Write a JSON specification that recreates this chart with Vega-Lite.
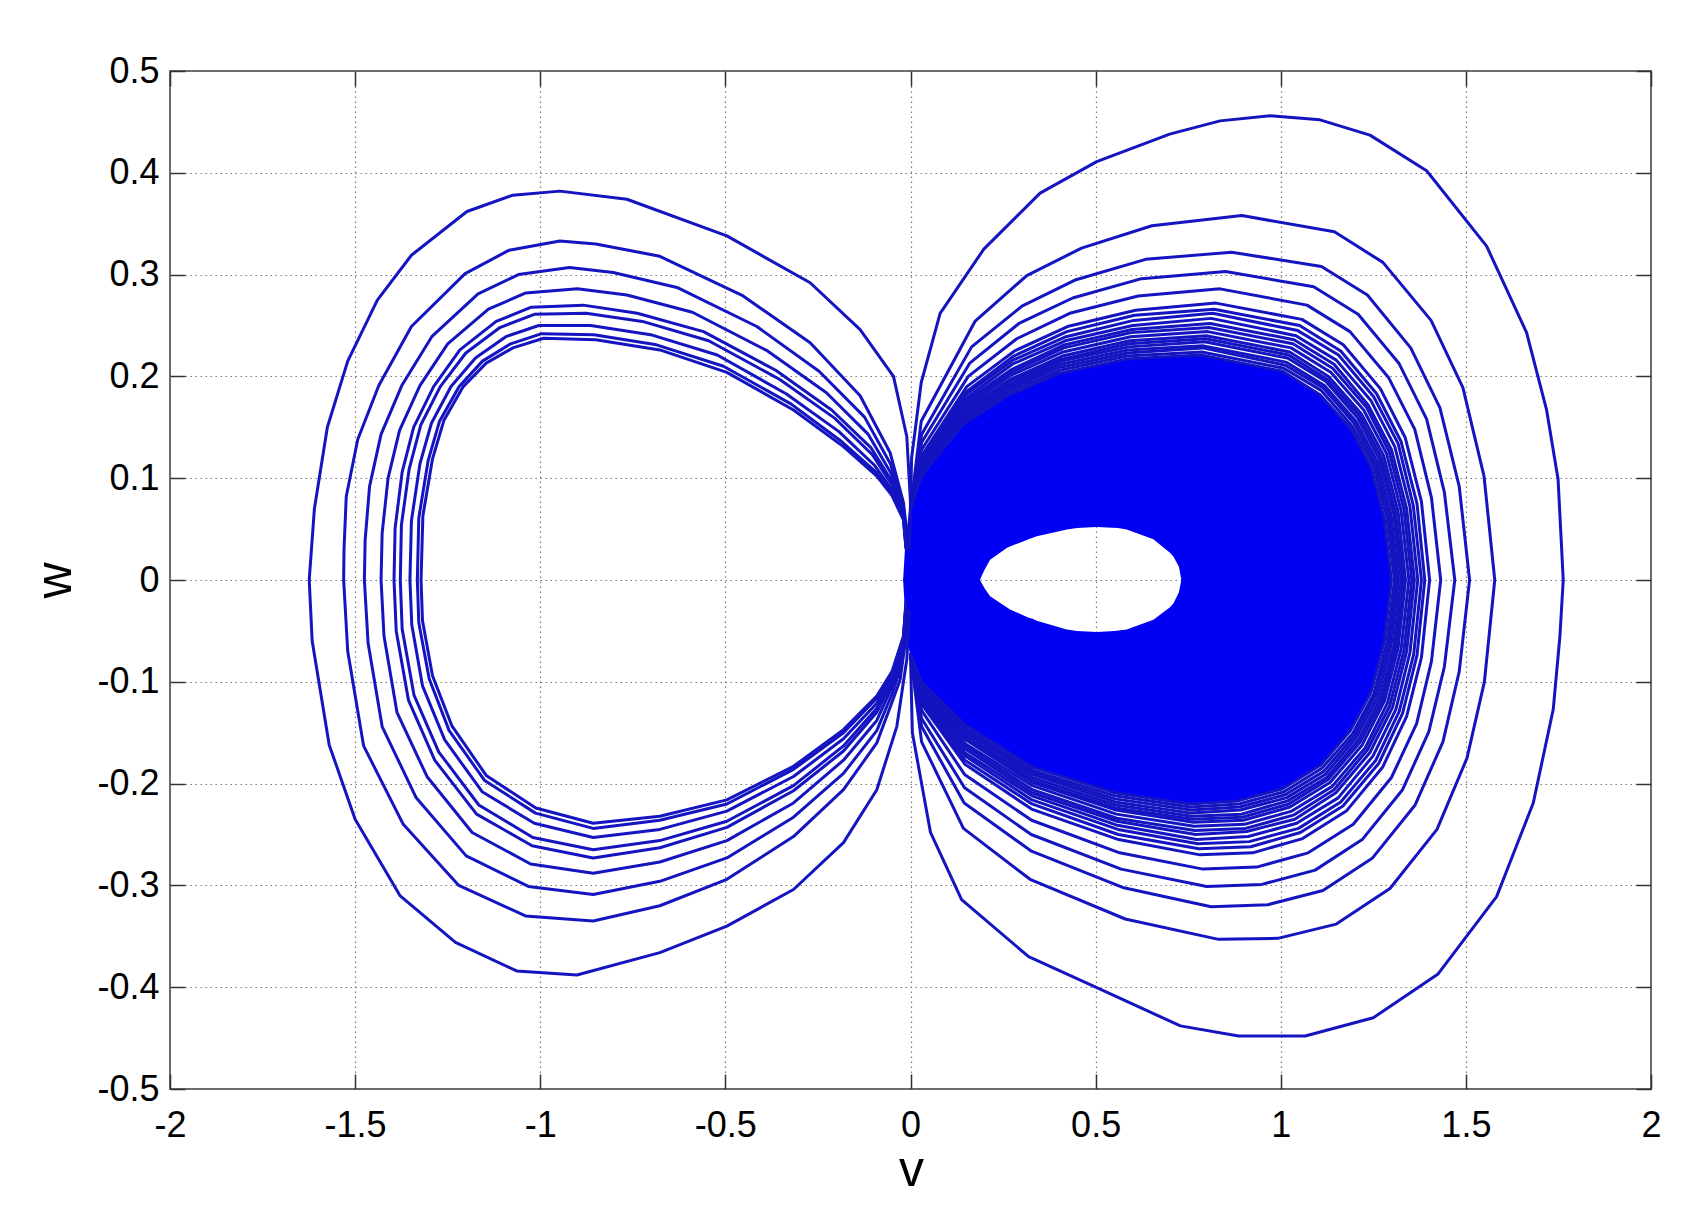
{
"$schema": "https://vega.github.io/schema/vega-lite/v6.json",
"width": 1481, "height": 1018,
"autosize": {"type": "none"},
"padding": {"left": 170, "top": 71, "right": 49, "bottom": 116},
"background": "white",
"config": {"view": {"stroke": "#3a3a3a", "strokeWidth": 1.5}, "font": "Liberation Sans"},
"datasets": {
"dense": [
{"b":"u","v":-0.02,"hi":0,"lo":-0.001},{"b":"u","v":-0.015,"hi":0.03,"lo":-0.001},{"b":"u","v":-0.005,"hi":0.066,"lo":-0.001},{"b":"u","v":0,"hi":0.075,"lo":-0.001},{"b":"u","v":0.005,"hi":0.09,"lo":-0.001},{"b":"u","v":0.03,"hi":0.11,"lo":-0.001},{"b":"u","v":0.07,"hi":0.13,"lo":-0.001},{"b":"u","v":0.139,"hi":0.152,"lo":-0.001},{"b":"u","v":0.186,"hi":0.163,"lo":-0.001},{"b":"u","v":0.2,"hi":0.166,"lo":0.01},{"b":"u","v":0.215,"hi":0.17,"lo":0.02},{"b":"u","v":0.262,"hi":0.181,"lo":0.032},{"b":"u","v":0.269,"hi":0.182,"lo":0.033},{"b":"u","v":0.319,"hi":0.19,"lo":0.04},{"b":"u","v":0.341,"hi":0.194,"lo":0.043},{"b":"u","v":0.402,"hi":0.203,"lo":0.048},{"b":"u","v":0.422,"hi":0.205,"lo":0.0496},{"b":"u","v":0.45,"hi":0.207,"lo":0.051},{"b":"u","v":0.503,"hi":0.211,"lo":0.052},{"b":"u","v":0.56,"hi":0.215,"lo":0.051},{"b":"u","v":0.584,"hi":0.217,"lo":0.0496},{"b":"u","v":0.656,"hi":0.218,"lo":0.04},{"b":"u","v":0.7,"hi":0.219,"lo":0.027},{"b":"u","v":0.71,"hi":0.219,"lo":0.023},{"b":"u","v":0.725,"hi":0.22,"lo":0.013},{"b":"u","v":0.732,"hi":0.22,"lo":-0.001},{"b":"u","v":0.784,"hi":0.221,"lo":-0.001},{"b":"u","v":0.9,"hi":0.213,"lo":-0.001},{"b":"u","v":1.005,"hi":0.205,"lo":-0.001},{"b":"u","v":1.106,"hi":0.182,"lo":-0.001},{"b":"u","v":1.188,"hi":0.149,"lo":-0.001},{"b":"u","v":1.244,"hi":0.111,"lo":-0.001},{"b":"u","v":1.279,"hi":0.061,"lo":-0.001},{"b":"u","v":1.299,"hi":0,"lo":-0.001},
{"b":"d","v":-0.02,"hi":0.001,"lo":0},{"b":"d","v":-0.015,"hi":0.001,"lo":-0.03},{"b":"d","v":-0.005,"hi":0.001,"lo":-0.066},{"b":"d","v":0,"hi":0.001,"lo":-0.075},{"b":"d","v":0.005,"hi":0.001,"lo":-0.088},{"b":"d","v":0.03,"hi":0.001,"lo":-0.105},{"b":"d","v":0.07,"hi":0.001,"lo":-0.122},{"b":"d","v":0.15,"hi":0.001,"lo":-0.143},{"b":"d","v":0.186,"hi":0.001,"lo":-0.151},{"b":"d","v":0.2,"hi":-0.008,"lo":-0.154},{"b":"d","v":0.215,"hi":-0.016,"lo":-0.158},{"b":"d","v":0.269,"hi":-0.029,"lo":-0.17},{"b":"d","v":0.319,"hi":-0.037,"lo":-0.182},{"b":"d","v":0.33,"hi":-0.038,"lo":-0.184},{"b":"d","v":0.341,"hi":-0.04,"lo":-0.185},{"b":"d","v":0.422,"hi":-0.0486,"lo":-0.194},{"b":"d","v":0.45,"hi":-0.05,"lo":-0.197},{"b":"d","v":0.503,"hi":-0.051,"lo":-0.203},{"b":"d","v":0.551,"hi":-0.05,"lo":-0.209},{"b":"d","v":0.584,"hi":-0.0486,"lo":-0.211},{"b":"d","v":0.656,"hi":-0.039,"lo":-0.215},{"b":"d","v":0.7,"hi":-0.027,"lo":-0.217},{"b":"d","v":0.71,"hi":-0.023,"lo":-0.218},{"b":"d","v":0.725,"hi":-0.012,"lo":-0.219},{"b":"d","v":0.732,"hi":0.001,"lo":-0.219},{"b":"d","v":0.753,"hi":0.001,"lo":-0.22},{"b":"d","v":0.884,"hi":0.001,"lo":-0.217},{"b":"d","v":1.005,"hi":0.001,"lo":-0.205},{"b":"d","v":1.107,"hi":0.001,"lo":-0.182},{"b":"d","v":1.188,"hi":0.001,"lo":-0.148},{"b":"d","v":1.244,"hi":0.001,"lo":-0.11},{"b":"d","v":1.279,"hi":0.001,"lo":-0.061},{"b":"d","v":1.299,"hi":0.001,"lo":0}
],
"loops": [
{"c":"L1","i":0,"v":-0.003,"w":0.03},{"c":"L1","i":1,"v":0,"w":0.076},{"c":"L1","i":2,"v":-0.01,"w":0.141},{"c":"L1","i":3,"v":-0.046,"w":0.2},{"c":"L1","i":4,"v":-0.136,"w":0.246},{"c":"L1","i":5,"v":-0.271,"w":0.292},{"c":"L1","i":6,"v":-0.496,"w":0.338},{"c":"L1","i":7,"v":-0.766,"w":0.374},{"c":"L1","i":8,"v":-0.947,"w":0.382},{"c":"L1","i":9,"v":-1.074,"w":0.378},{"c":"L1","i":10,"v":-1.198,"w":0.362},{"c":"L1","i":11,"v":-1.348,"w":0.319},{"c":"L1","i":12,"v":-1.44,"w":0.275},{"c":"L1","i":13,"v":-1.52,"w":0.215},{"c":"L1","i":14,"v":-1.575,"w":0.15},{"c":"L1","i":15,"v":-1.61,"w":0.07},{"c":"L1","i":16,"v":-1.624,"w":0},{"c":"L1","i":17,"v":-1.616,"w":-0.06},{"c":"L1","i":18,"v":-1.57,"w":-0.162},{"c":"L1","i":19,"v":-1.5,"w":-0.235},{"c":"L1","i":20,"v":-1.379,"w":-0.31},{"c":"L1","i":21,"v":-1.229,"w":-0.356},{"c":"L1","i":22,"v":-1.064,"w":-0.384},{"c":"L1","i":23,"v":-0.901,"w":-0.388},{"c":"L1","i":24,"v":-0.677,"w":-0.366},{"c":"L1","i":25,"v":-0.496,"w":-0.34},{"c":"L1","i":26,"v":-0.316,"w":-0.304},{"c":"L1","i":27,"v":-0.181,"w":-0.258},{"c":"L1","i":28,"v":-0.091,"w":-0.206},{"c":"L1","i":29,"v":-0.037,"w":-0.144},{"c":"L1","i":30,"v":-0.01,"w":-0.078},{"c":"L1","i":31,"v":-0.003,"w":-0.03},
{"c":"L2","i":0,"v":-0.008,"w":0.04},{"c":"L2","i":1,"v":-0.019,"w":0.076},{"c":"L2","i":2,"v":-0.055,"w":0.125},{"c":"L2","i":3,"v":-0.136,"w":0.181},{"c":"L2","i":4,"v":-0.271,"w":0.233},{"c":"L2","i":5,"v":-0.452,"w":0.279},{"c":"L2","i":6,"v":-0.677,"w":0.318},{"c":"L2","i":7,"v":-0.85,"w":0.33},{"c":"L2","i":8,"v":-0.947,"w":0.333},{"c":"L2","i":9,"v":-1.084,"w":0.324},{"c":"L2","i":10,"v":-1.203,"w":0.301},{"c":"L2","i":11,"v":-1.348,"w":0.249},{"c":"L2","i":12,"v":-1.436,"w":0.191},{"c":"L2","i":13,"v":-1.493,"w":0.138},{"c":"L2","i":14,"v":-1.524,"w":0.082},{"c":"L2","i":15,"v":-1.53,"w":0.03},{"c":"L2","i":16,"v":-1.531,"w":0},{"c":"L2","i":17,"v":-1.52,"w":-0.07},{"c":"L2","i":18,"v":-1.477,"w":-0.163},{"c":"L2","i":19,"v":-1.37,"w":-0.24},{"c":"L2","i":20,"v":-1.22,"w":-0.3},{"c":"L2","i":21,"v":-1.04,"w":-0.33},{"c":"L2","i":22,"v":-0.857,"w":-0.335},{"c":"L2","i":23,"v":-0.677,"w":-0.32},{"c":"L2","i":24,"v":-0.496,"w":-0.294},{"c":"L2","i":25,"v":-0.316,"w":-0.252},{"c":"L2","i":26,"v":-0.181,"w":-0.206},{"c":"L2","i":27,"v":-0.091,"w":-0.16},{"c":"L2","i":28,"v":-0.05,"w":-0.12},{"c":"L2","i":29,"v":-0.028,"w":-0.098},{"c":"L2","i":30,"v":-0.01,"w":-0.05},
{"c":"L3","i":0,"v":-0.009,"w":0.037},{"c":"L3","i":1,"v":-0.019,"w":0.071},{"c":"L3","i":2,"v":-0.054,"w":0.114},{"c":"L3","i":3,"v":-0.124,"w":0.16},{"c":"L3","i":4,"v":-0.247,"w":0.205},{"c":"L3","i":5,"v":-0.415,"w":0.249},{"c":"L3","i":6,"v":-0.628,"w":0.287},{"c":"L3","i":7,"v":-0.803,"w":0.302},{"c":"L3","i":8,"v":-0.921,"w":0.307},{"c":"L3","i":9,"v":-1.059,"w":0.3},{"c":"L3","i":10,"v":-1.168,"w":0.281},{"c":"L3","i":11,"v":-1.293,"w":0.239},{"c":"L3","i":12,"v":-1.374,"w":0.191},{"c":"L3","i":13,"v":-1.43,"w":0.143},{"c":"L3","i":14,"v":-1.461,"w":0.092},{"c":"L3","i":15,"v":-1.473,"w":0.039},{"c":"L3","i":16,"v":-1.475,"w":0},{"c":"L3","i":17,"v":-1.465,"w":-0.062},{"c":"L3","i":18,"v":-1.427,"w":-0.144},{"c":"L3","i":19,"v":-1.335,"w":-0.214},{"c":"L3","i":20,"v":-1.2,"w":-0.271},{"c":"L3","i":21,"v":-1.032,"w":-0.301},{"c":"L3","i":22,"v":-0.857,"w":-0.309},{"c":"L3","i":23,"v":-0.677,"w":-0.296},{"c":"L3","i":24,"v":-0.496,"w":-0.273},{"c":"L3","i":25,"v":-0.316,"w":-0.233},{"c":"L3","i":26,"v":-0.181,"w":-0.19},{"c":"L3","i":27,"v":-0.091,"w":-0.148},{"c":"L3","i":28,"v":-0.05,"w":-0.112},{"c":"L3","i":29,"v":-0.026,"w":-0.086},{"c":"L3","i":30,"v":-0.011,"w":-0.042},
{"c":"L4","i":0,"v":-0.01,"w":0.035},{"c":"L4","i":1,"v":-0.019,"w":0.068},{"c":"L4","i":2,"v":-0.053,"w":0.105},{"c":"L4","i":3,"v":-0.114,"w":0.143},{"c":"L4","i":4,"v":-0.227,"w":0.184},{"c":"L4","i":5,"v":-0.386,"w":0.225},{"c":"L4","i":6,"v":-0.589,"w":0.263},{"c":"L4","i":7,"v":-0.766,"w":0.28},{"c":"L4","i":8,"v":-0.9,"w":0.286},{"c":"L4","i":9,"v":-1.039,"w":0.282},{"c":"L4","i":10,"v":-1.14,"w":0.266},{"c":"L4","i":11,"v":-1.25,"w":0.232},{"c":"L4","i":12,"v":-1.325,"w":0.191},{"c":"L4","i":13,"v":-1.38,"w":0.147},{"c":"L4","i":14,"v":-1.411,"w":0.1},{"c":"L4","i":15,"v":-1.427,"w":0.046},{"c":"L4","i":16,"v":-1.43,"w":0},{"c":"L4","i":17,"v":-1.422,"w":-0.055},{"c":"L4","i":18,"v":-1.387,"w":-0.13},{"c":"L4","i":19,"v":-1.306,"w":-0.193},{"c":"L4","i":20,"v":-1.184,"w":-0.248},{"c":"L4","i":21,"v":-1.026,"w":-0.279},{"c":"L4","i":22,"v":-0.857,"w":-0.288},{"c":"L4","i":23,"v":-0.677,"w":-0.277},{"c":"L4","i":24,"v":-0.496,"w":-0.256},{"c":"L4","i":25,"v":-0.316,"w":-0.219},{"c":"L4","i":26,"v":-0.181,"w":-0.177},{"c":"L4","i":27,"v":-0.091,"w":-0.138},{"c":"L4","i":28,"v":-0.05,"w":-0.105},{"c":"L4","i":29,"v":-0.024,"w":-0.077},{"c":"L4","i":30,"v":-0.011,"w":-0.035},
{"c":"L5","i":0,"v":-0.011,"w":0.034},{"c":"L5","i":1,"v":-0.019,"w":0.065},{"c":"L5","i":2,"v":-0.052,"w":0.098},{"c":"L5","i":3,"v":-0.107,"w":0.13},{"c":"L5","i":4,"v":-0.213,"w":0.167},{"c":"L5","i":5,"v":-0.364,"w":0.206},{"c":"L5","i":6,"v":-0.559,"w":0.244},{"c":"L5","i":7,"v":-0.738,"w":0.262},{"c":"L5","i":8,"v":-0.884,"w":0.27},{"c":"L5","i":9,"v":-1.024,"w":0.268},{"c":"L5","i":10,"v":-1.119,"w":0.254},{"c":"L5","i":11,"v":-1.217,"w":0.226},{"c":"L5","i":12,"v":-1.288,"w":0.19},{"c":"L5","i":13,"v":-1.342,"w":0.15},{"c":"L5","i":14,"v":-1.373,"w":0.106},{"c":"L5","i":15,"v":-1.392,"w":0.051},{"c":"L5","i":16,"v":-1.395,"w":0},{"c":"L5","i":17,"v":-1.389,"w":-0.05},{"c":"L5","i":18,"v":-1.356,"w":-0.118},{"c":"L5","i":19,"v":-1.285,"w":-0.177},{"c":"L5","i":20,"v":-1.172,"w":-0.23},{"c":"L5","i":21,"v":-1.022,"w":-0.261},{"c":"L5","i":22,"v":-0.857,"w":-0.273},{"c":"L5","i":23,"v":-0.677,"w":-0.263},{"c":"L5","i":24,"v":-0.496,"w":-0.243},{"c":"L5","i":25,"v":-0.316,"w":-0.207},{"c":"L5","i":26,"v":-0.181,"w":-0.168},{"c":"L5","i":27,"v":-0.091,"w":-0.13},{"c":"L5","i":28,"v":-0.05,"w":-0.1},{"c":"L5","i":29,"v":-0.022,"w":-0.07},{"c":"L5","i":30,"v":-0.011,"w":-0.03},
{"c":"L6","i":0,"v":-0.011,"w":0.033},{"c":"L6","i":1,"v":-0.019,"w":0.064},{"c":"L6","i":2,"v":-0.051,"w":0.094},{"c":"L6","i":3,"v":-0.103,"w":0.123},{"c":"L6","i":4,"v":-0.205,"w":0.159},{"c":"L6","i":5,"v":-0.353,"w":0.197},{"c":"L6","i":6,"v":-0.545,"w":0.235},{"c":"L6","i":7,"v":-0.724,"w":0.254},{"c":"L6","i":8,"v":-0.876,"w":0.262},{"c":"L6","i":9,"v":-1.016,"w":0.261},{"c":"L6","i":10,"v":-1.109,"w":0.248},{"c":"L6","i":11,"v":-1.201,"w":0.223},{"c":"L6","i":12,"v":-1.27,"w":0.19},{"c":"L6","i":13,"v":-1.323,"w":0.152},{"c":"L6","i":14,"v":-1.354,"w":0.109},{"c":"L6","i":15,"v":-1.375,"w":0.054},{"c":"L6","i":16,"v":-1.378,"w":0},{"c":"L6","i":17,"v":-1.373,"w":-0.048},{"c":"L6","i":18,"v":-1.341,"w":-0.113},{"c":"L6","i":19,"v":-1.274,"w":-0.169},{"c":"L6","i":20,"v":-1.166,"w":-0.221},{"c":"L6","i":21,"v":-1.02,"w":-0.253},{"c":"L6","i":22,"v":-0.857,"w":-0.265},{"c":"L6","i":23,"v":-0.677,"w":-0.256},{"c":"L6","i":24,"v":-0.496,"w":-0.237},{"c":"L6","i":25,"v":-0.316,"w":-0.202},{"c":"L6","i":26,"v":-0.181,"w":-0.163},{"c":"L6","i":27,"v":-0.091,"w":-0.126},{"c":"L6","i":28,"v":-0.05,"w":-0.098},{"c":"L6","i":29,"v":-0.021,"w":-0.067},{"c":"L6","i":30,"v":-0.011,"w":-0.028},
{"c":"L7","i":0,"v":-0.011,"w":0.031},{"c":"L7","i":1,"v":-0.019,"w":0.061},{"c":"L7","i":2,"v":-0.051,"w":0.089},{"c":"L7","i":3,"v":-0.098,"w":0.113},{"c":"L7","i":4,"v":-0.194,"w":0.146},{"c":"L7","i":5,"v":-0.336,"w":0.183},{"c":"L7","i":6,"v":-0.522,"w":0.221},{"c":"L7","i":7,"v":-0.702,"w":0.241},{"c":"L7","i":8,"v":-0.864,"w":0.25},{"c":"L7","i":9,"v":-1.004,"w":0.25},{"c":"L7","i":10,"v":-1.093,"w":0.239},{"c":"L7","i":11,"v":-1.175,"w":0.218},{"c":"L7","i":12,"v":-1.241,"w":0.19},{"c":"L7","i":13,"v":-1.294,"w":0.154},{"c":"L7","i":14,"v":-1.325,"w":0.114},{"c":"L7","i":15,"v":-1.348,"w":0.058},{"c":"L7","i":16,"v":-1.352,"w":0},{"c":"L7","i":17,"v":-1.347,"w":-0.044},{"c":"L7","i":18,"v":-1.318,"w":-0.104},{"c":"L7","i":19,"v":-1.258,"w":-0.157},{"c":"L7","i":20,"v":-1.157,"w":-0.208},{"c":"L7","i":21,"v":-1.016,"w":-0.239},{"c":"L7","i":22,"v":-0.857,"w":-0.253},{"c":"L7","i":23,"v":-0.677,"w":-0.245},{"c":"L7","i":24,"v":-0.496,"w":-0.227},{"c":"L7","i":25,"v":-0.316,"w":-0.193},{"c":"L7","i":26,"v":-0.181,"w":-0.156},{"c":"L7","i":27,"v":-0.091,"w":-0.121},{"c":"L7","i":28,"v":-0.05,"w":-0.094},{"c":"L7","i":29,"v":-0.02,"w":-0.061},{"c":"L7","i":30,"v":-0.012,"w":-0.024},
{"c":"L8","i":0,"v":-0.012,"w":0.031},{"c":"L8","i":1,"v":-0.019,"w":0.06},{"c":"L8","i":2,"v":-0.05,"w":0.085},{"c":"L8","i":3,"v":-0.093,"w":0.106},{"c":"L8","i":4,"v":-0.186,"w":0.136},{"c":"L8","i":5,"v":-0.323,"w":0.173},{"c":"L8","i":6,"v":-0.505,"w":0.21},{"c":"L8","i":7,"v":-0.686,"w":0.231},{"c":"L8","i":8,"v":-0.855,"w":0.241},{"c":"L8","i":9,"v":-0.996,"w":0.242},{"c":"L8","i":10,"v":-1.08,"w":0.232},{"c":"L8","i":11,"v":-1.156,"w":0.215},{"c":"L8","i":12,"v":-1.219,"w":0.19},{"c":"L8","i":13,"v":-1.272,"w":0.156},{"c":"L8","i":14,"v":-1.303,"w":0.117},{"c":"L8","i":15,"v":-1.328,"w":0.061},{"c":"L8","i":16,"v":-1.332,"w":0},{"c":"L8","i":17,"v":-1.328,"w":-0.042},{"c":"L8","i":18,"v":-1.3,"w":-0.097},{"c":"L8","i":19,"v":-1.246,"w":-0.148},{"c":"L8","i":20,"v":-1.15,"w":-0.197},{"c":"L8","i":21,"v":-1.013,"w":-0.229},{"c":"L8","i":22,"v":-0.857,"w":-0.244},{"c":"L8","i":23,"v":-0.677,"w":-0.236},{"c":"L8","i":24,"v":-0.496,"w":-0.22},{"c":"L8","i":25,"v":-0.316,"w":-0.186},{"c":"L8","i":26,"v":-0.181,"w":-0.15},{"c":"L8","i":27,"v":-0.091,"w":-0.116},{"c":"L8","i":28,"v":-0.05,"w":-0.092},{"c":"L8","i":29,"v":-0.019,"w":-0.057},{"c":"L8","i":30,"v":-0.012,"w":-0.022},
{"c":"L9","i":0,"v":-0.012,"w":0.03},{"c":"L9","i":1,"v":-0.019,"w":0.059},{"c":"L9","i":2,"v":-0.05,"w":0.083},{"c":"L9","i":3,"v":-0.091,"w":0.102},{"c":"L9","i":4,"v":-0.181,"w":0.131},{"c":"L9","i":5,"v":-0.316,"w":0.167},{"c":"L9","i":6,"v":-0.496,"w":0.204},{"c":"L9","i":7,"v":-0.677,"w":0.226},{"c":"L9","i":8,"v":-0.85,"w":0.236},{"c":"L9","i":9,"v":-0.991,"w":0.2375},{"c":"L9","i":10,"v":-1.074,"w":0.228},{"c":"L9","i":11,"v":-1.146,"w":0.213},{"c":"L9","i":12,"v":-1.208,"w":0.19},{"c":"L9","i":13,"v":-1.26,"w":0.157},{"c":"L9","i":14,"v":-1.291,"w":0.119},{"c":"L9","i":15,"v":-1.317,"w":0.063},{"c":"L9","i":16,"v":-1.322,"w":0},{"c":"L9","i":17,"v":-1.318,"w":-0.04},{"c":"L9","i":18,"v":-1.291,"w":-0.094},{"c":"L9","i":19,"v":-1.239,"w":-0.143},{"c":"L9","i":20,"v":-1.146,"w":-0.192},{"c":"L9","i":21,"v":-1.012,"w":-0.224},{"c":"L9","i":22,"v":-0.857,"w":-0.239},{"c":"L9","i":23,"v":-0.677,"w":-0.232},{"c":"L9","i":24,"v":-0.496,"w":-0.216},{"c":"L9","i":25,"v":-0.316,"w":-0.183},{"c":"L9","i":26,"v":-0.181,"w":-0.147},{"c":"L9","i":27,"v":-0.091,"w":-0.114},{"c":"L9","i":28,"v":-0.05,"w":-0.09},{"c":"L9","i":29,"v":-0.019,"w":-0.055},{"c":"L9","i":30,"v":-0.012,"w":-0.02},
{"c":"R1","i":0,"v":0,"w":0.07},{"c":"R1","i":0.5,"v":0.003,"w":0.12},{"c":"R1","i":1,"v":0.029,"w":0.194},{"c":"R1","i":1.5,"v":0.08,"w":0.262},{"c":"R1","i":2,"v":0.198,"w":0.325},{"c":"R1","i":3,"v":0.35,"w":0.38},{"c":"R1","i":4,"v":0.503,"w":0.411},{"c":"R1","i":5,"v":0.7,"w":0.438},{"c":"R1","i":5.5,"v":0.836,"w":0.451},{"c":"R1","i":6,"v":0.971,"w":0.456},{"c":"R1","i":6.5,"v":1.106,"w":0.452},{"c":"R1","i":7,"v":1.241,"w":0.437},{"c":"R1","i":8,"v":1.394,"w":0.402},{"c":"R1","i":9,"v":1.556,"w":0.328},{"c":"R1","i":10,"v":1.664,"w":0.243},{"c":"R1","i":10.5,"v":1.718,"w":0.167},{"c":"R1","i":11,"v":1.749,"w":0.099},{"c":"R1","i":12,"v":1.763,"w":0},{"c":"R1","i":12.5,"v":1.754,"w":-0.055},{"c":"R1","i":13,"v":1.736,"w":-0.127},{"c":"R1","i":14,"v":1.682,"w":-0.219},{"c":"R1","i":15,"v":1.583,"w":-0.311},{"c":"R1","i":16,"v":1.425,"w":-0.387},{"c":"R1","i":17,"v":1.25,"w":-0.43},{"c":"R1","i":18,"v":1.066,"w":-0.448},{"c":"R1","i":19,"v":0.886,"w":-0.448},{"c":"R1","i":19.5,"v":0.729,"w":-0.438},{"c":"R1","i":20,"v":0.512,"w":-0.402},{"c":"R1","i":21,"v":0.319,"w":-0.37},{"c":"R1","i":22,"v":0.138,"w":-0.314},{"c":"R1","i":22.5,"v":0.054,"w":-0.248},{"c":"R1","i":23,"v":0.005,"w":-0.15},{"c":"R1","i":24,"v":0,"w":-0.075},
{"c":"R2","i":0,"v":0,"w":0.07},{"c":"R2","i":1,"v":0.029,"w":0.156},{"c":"R2","i":2,"v":0.174,"w":0.254},{"c":"R2","i":3,"v":0.314,"w":0.299},{"c":"R2","i":4,"v":0.462,"w":0.326},{"c":"R2","i":5,"v":0.652,"w":0.348},{"c":"R2","i":6,"v":0.895,"w":0.358},{"c":"R2","i":7,"v":1.145,"w":0.342},{"c":"R2","i":8,"v":1.276,"w":0.312},{"c":"R2","i":9,"v":1.406,"w":0.255},{"c":"R2","i":10,"v":1.492,"w":0.189},{"c":"R2","i":11,"v":1.549,"w":0.102},{"c":"R2","i":12,"v":1.578,"w":0},{"c":"R2","i":13,"v":1.55,"w":-0.1},{"c":"R2","i":14,"v":1.503,"w":-0.175},{"c":"R2","i":15,"v":1.422,"w":-0.245},{"c":"R2","i":16,"v":1.295,"w":-0.303},{"c":"R2","i":17,"v":1.15,"w":-0.338},{"c":"R2","i":18,"v":0.992,"w":-0.352},{"c":"R2","i":19,"v":0.832,"w":-0.353},{"c":"R2","i":20,"v":0.58,"w":-0.333},{"c":"R2","i":21,"v":0.323,"w":-0.294},{"c":"R2","i":22,"v":0.143,"w":-0.244},{"c":"R2","i":23,"v":0.03,"w":-0.159},{"c":"R2","i":24,"v":0,"w":-0.074},
{"c":"R3","i":0,"v":0,"w":0.07},{"c":"R3","i":1,"v":0.03,"w":0.143},{"c":"R3","i":2,"v":0.165,"w":0.229},{"c":"R3","i":3,"v":0.301,"w":0.269},{"c":"R3","i":4,"v":0.447,"w":0.295},{"c":"R3","i":5,"v":0.635,"w":0.315},{"c":"R3","i":6,"v":0.867,"w":0.322},{"c":"R3","i":7,"v":1.11,"w":0.308},{"c":"R3","i":8,"v":1.234,"w":0.28},{"c":"R3","i":9,"v":1.351,"w":0.228},{"c":"R3","i":10,"v":1.43,"w":0.169},{"c":"R3","i":11,"v":1.482,"w":0.092},{"c":"R3","i":12,"v":1.51,"w":0},{"c":"R3","i":13,"v":1.482,"w":-0.09},{"c":"R3","i":14,"v":1.438,"w":-0.159},{"c":"R3","i":15,"v":1.363,"w":-0.221},{"c":"R3","i":16,"v":1.248,"w":-0.273},{"c":"R3","i":17,"v":1.114,"w":-0.305},{"c":"R3","i":18,"v":0.965,"w":-0.319},{"c":"R3","i":19,"v":0.812,"w":-0.321},{"c":"R3","i":20,"v":0.573,"w":-0.302},{"c":"R3","i":21,"v":0.325,"w":-0.266},{"c":"R3","i":22,"v":0.145,"w":-0.219},{"c":"R3","i":23,"v":0.03,"w":-0.144},{"c":"R3","i":24,"v":0,"w":-0.073},
{"c":"R4","i":0,"v":0,"w":0.07},{"c":"R4","i":1,"v":0.03,"w":0.135},{"c":"R4","i":2,"v":0.16,"w":0.213},{"c":"R4","i":3,"v":0.293,"w":0.252},{"c":"R4","i":4,"v":0.438,"w":0.277},{"c":"R4","i":5,"v":0.624,"w":0.296},{"c":"R4","i":6,"v":0.851,"w":0.303},{"c":"R4","i":7,"v":1.089,"w":0.288},{"c":"R4","i":8,"v":1.209,"w":0.261},{"c":"R4","i":9,"v":1.319,"w":0.213},{"c":"R4","i":10,"v":1.394,"w":0.158},{"c":"R4","i":11,"v":1.442,"w":0.086},{"c":"R4","i":12,"v":1.47,"w":0},{"c":"R4","i":13,"v":1.442,"w":-0.085},{"c":"R4","i":14,"v":1.4,"w":-0.149},{"c":"R4","i":15,"v":1.329,"w":-0.206},{"c":"R4","i":16,"v":1.22,"w":-0.255},{"c":"R4","i":17,"v":1.093,"w":-0.285},{"c":"R4","i":18,"v":0.949,"w":-0.299},{"c":"R4","i":19,"v":0.8,"w":-0.301},{"c":"R4","i":20,"v":0.569,"w":-0.284},{"c":"R4","i":21,"v":0.326,"w":-0.25},{"c":"R4","i":22,"v":0.146,"w":-0.204},{"c":"R4","i":23,"v":0.03,"w":-0.136},{"c":"R4","i":24,"v":0,"w":-0.073},
{"c":"R5","i":0,"v":0,"w":0.07},{"c":"R5","i":1,"v":0.03,"w":0.128},{"c":"R5","i":2,"v":0.156,"w":0.2},{"c":"R5","i":3,"v":0.287,"w":0.237},{"c":"R5","i":4,"v":0.43,"w":0.262},{"c":"R5","i":5,"v":0.615,"w":0.279},{"c":"R5","i":6,"v":0.836,"w":0.286},{"c":"R5","i":7,"v":1.071,"w":0.27},{"c":"R5","i":8,"v":1.187,"w":0.244},{"c":"R5","i":9,"v":1.291,"w":0.199},{"c":"R5","i":10,"v":1.362,"w":0.148},{"c":"R5","i":11,"v":1.407,"w":0.081},{"c":"R5","i":12,"v":1.432,"w":0},{"c":"R5","i":13,"v":1.407,"w":-0.08},{"c":"R5","i":14,"v":1.367,"w":-0.141},{"c":"R5","i":15,"v":1.299,"w":-0.194},{"c":"R5","i":16,"v":1.196,"w":-0.24},{"c":"R5","i":17,"v":1.074,"w":-0.268},{"c":"R5","i":18,"v":0.935,"w":-0.282},{"c":"R5","i":19,"v":0.79,"w":-0.284},{"c":"R5","i":20,"v":0.565,"w":-0.268},{"c":"R5","i":21,"v":0.327,"w":-0.236},{"c":"R5","i":22,"v":0.146,"w":-0.191},{"c":"R5","i":23,"v":0.03,"w":-0.128},{"c":"R5","i":24,"v":0,"w":-0.073},
{"c":"R6","i":0,"v":0,"w":0.07},{"c":"R6","i":1,"v":0.03,"w":0.122},{"c":"R6","i":2,"v":0.152,"w":0.19},{"c":"R6","i":3,"v":0.281,"w":0.225},{"c":"R6","i":4,"v":0.424,"w":0.249},{"c":"R6","i":5,"v":0.608,"w":0.265},{"c":"R6","i":6,"v":0.825,"w":0.272},{"c":"R6","i":7,"v":1.057,"w":0.256},{"c":"R6","i":8,"v":1.169,"w":0.231},{"c":"R6","i":9,"v":1.269,"w":0.188},{"c":"R6","i":10,"v":1.336,"w":0.14},{"c":"R6","i":11,"v":1.38,"w":0.077},{"c":"R6","i":12,"v":1.402,"w":0},{"c":"R6","i":13,"v":1.38,"w":-0.076},{"c":"R6","i":14,"v":1.34,"w":-0.134},{"c":"R6","i":15,"v":1.275,"w":-0.184},{"c":"R6","i":16,"v":1.177,"w":-0.227},{"c":"R6","i":17,"v":1.059,"w":-0.254},{"c":"R6","i":18,"v":0.924,"w":-0.268},{"c":"R6","i":19,"v":0.782,"w":-0.27},{"c":"R6","i":20,"v":0.562,"w":-0.255},{"c":"R6","i":21,"v":0.327,"w":-0.225},{"c":"R6","i":22,"v":0.147,"w":-0.181},{"c":"R6","i":23,"v":0.03,"w":-0.122},{"c":"R6","i":24,"v":0,"w":-0.073},
{"c":"R13","i":0,"v":0,"w":0.07},{"c":"R13","i":1,"v":0.03,"w":0.12},{"c":"R13","i":2,"v":0.151,"w":0.185},{"c":"R13","i":3,"v":0.279,"w":0.22},{"c":"R13","i":4,"v":0.422,"w":0.244},{"c":"R13","i":5,"v":0.605,"w":0.26},{"c":"R13","i":6,"v":0.82,"w":0.266},{"c":"R13","i":7,"v":1.051,"w":0.25},{"c":"R13","i":8,"v":1.162,"w":0.225},{"c":"R13","i":9,"v":1.259,"w":0.183},{"c":"R13","i":10,"v":1.325,"w":0.136},{"c":"R13","i":11,"v":1.368,"w":0.075},{"c":"R13","i":12,"v":1.389,"w":0},{"c":"R13","i":13,"v":1.368,"w":-0.074},{"c":"R13","i":14,"v":1.329,"w":-0.131},{"c":"R13","i":15,"v":1.265,"w":-0.18},{"c":"R13","i":16,"v":1.168,"w":-0.222},{"c":"R13","i":17,"v":1.053,"w":-0.248},{"c":"R13","i":18,"v":0.919,"w":-0.262},{"c":"R13","i":19,"v":0.779,"w":-0.264},{"c":"R13","i":20,"v":0.561,"w":-0.25},{"c":"R13","i":21,"v":0.328,"w":-0.22},{"c":"R13","i":22,"v":0.147,"w":-0.177},{"c":"R13","i":23,"v":0.03,"w":-0.119},{"c":"R13","i":24,"v":0,"w":-0.073},
{"c":"R7","i":0,"v":0,"w":0.07},{"c":"R7","i":1,"v":0.03,"w":0.118},{"c":"R7","i":2,"v":0.149,"w":0.182},{"c":"R7","i":3,"v":0.277,"w":0.216},{"c":"R7","i":4,"v":0.42,"w":0.239},{"c":"R7","i":5,"v":0.603,"w":0.255},{"c":"R7","i":6,"v":0.816,"w":0.262},{"c":"R7","i":7,"v":1.046,"w":0.245},{"c":"R7","i":8,"v":1.156,"w":0.221},{"c":"R7","i":9,"v":1.251,"w":0.18},{"c":"R7","i":10,"v":1.317,"w":0.134},{"c":"R7","i":11,"v":1.358,"w":0.073},{"c":"R7","i":12,"v":1.38,"w":0},{"c":"R7","i":13,"v":1.359,"w":-0.073},{"c":"R7","i":14,"v":1.32,"w":-0.129},{"c":"R7","i":15,"v":1.257,"w":-0.177},{"c":"R7","i":16,"v":1.162,"w":-0.218},{"c":"R7","i":17,"v":1.048,"w":-0.244},{"c":"R7","i":18,"v":0.915,"w":-0.257},{"c":"R7","i":19,"v":0.776,"w":-0.259},{"c":"R7","i":20,"v":0.56,"w":-0.245},{"c":"R7","i":21,"v":0.328,"w":-0.216},{"c":"R7","i":22,"v":0.148,"w":-0.173},{"c":"R7","i":23,"v":0.03,"w":-0.117},{"c":"R7","i":24,"v":0,"w":-0.073},
{"c":"R14","i":0,"v":0,"w":0.07},{"c":"R14","i":1,"v":0.03,"w":0.116},{"c":"R14","i":2,"v":0.148,"w":0.178},{"c":"R14","i":3,"v":0.275,"w":0.212},{"c":"R14","i":4,"v":0.418,"w":0.235},{"c":"R14","i":5,"v":0.6,"w":0.25},{"c":"R14","i":6,"v":0.812,"w":0.257},{"c":"R14","i":7,"v":1.041,"w":0.24},{"c":"R14","i":8,"v":1.15,"w":0.216},{"c":"R14","i":9,"v":1.244,"w":0.176},{"c":"R14","i":10,"v":1.308,"w":0.131},{"c":"R14","i":11,"v":1.349,"w":0.072},{"c":"R14","i":12,"v":1.37,"w":0},{"c":"R14","i":13,"v":1.349,"w":-0.071},{"c":"R14","i":14,"v":1.311,"w":-0.127},{"c":"R14","i":15,"v":1.249,"w":-0.173},{"c":"R14","i":16,"v":1.155,"w":-0.214},{"c":"R14","i":17,"v":1.043,"w":-0.239},{"c":"R14","i":18,"v":0.912,"w":-0.252},{"c":"R14","i":19,"v":0.773,"w":-0.255},{"c":"R14","i":20,"v":0.559,"w":-0.241},{"c":"R14","i":21,"v":0.328,"w":-0.212},{"c":"R14","i":22,"v":0.148,"w":-0.17},{"c":"R14","i":23,"v":0.03,"w":-0.115},{"c":"R14","i":24,"v":0,"w":-0.073},
{"c":"R8","i":0,"v":0,"w":0.07},{"c":"R8","i":1,"v":0.03,"w":0.114},{"c":"R8","i":2,"v":0.147,"w":0.175},{"c":"R8","i":3,"v":0.274,"w":0.207},{"c":"R8","i":4,"v":0.415,"w":0.231},{"c":"R8","i":5,"v":0.598,"w":0.246},{"c":"R8","i":6,"v":0.809,"w":0.252},{"c":"R8","i":7,"v":1.036,"w":0.236},{"c":"R8","i":8,"v":1.144,"w":0.212},{"c":"R8","i":9,"v":1.236,"w":0.172},{"c":"R8","i":10,"v":1.299,"w":0.128},{"c":"R8","i":11,"v":1.34,"w":0.07},{"c":"R8","i":12,"v":1.361,"w":0},{"c":"R8","i":13,"v":1.34,"w":-0.07},{"c":"R8","i":14,"v":1.302,"w":-0.125},{"c":"R8","i":15,"v":1.24,"w":-0.17},{"c":"R8","i":16,"v":1.149,"w":-0.209},{"c":"R8","i":17,"v":1.038,"w":-0.235},{"c":"R8","i":18,"v":0.908,"w":-0.247},{"c":"R8","i":19,"v":0.77,"w":-0.25},{"c":"R8","i":20,"v":0.558,"w":-0.237},{"c":"R8","i":21,"v":0.328,"w":-0.209},{"c":"R8","i":22,"v":0.148,"w":-0.166},{"c":"R8","i":23,"v":0.03,"w":-0.113},{"c":"R8","i":24,"v":0,"w":-0.072},
{"c":"R15","i":0,"v":0,"w":0.07},{"c":"R15","i":1,"v":0.03,"w":0.113},{"c":"R15","i":2,"v":0.146,"w":0.172},{"c":"R15","i":3,"v":0.272,"w":0.204},{"c":"R15","i":4,"v":0.414,"w":0.228},{"c":"R15","i":5,"v":0.596,"w":0.243},{"c":"R15","i":6,"v":0.806,"w":0.248},{"c":"R15","i":7,"v":1.033,"w":0.232},{"c":"R15","i":8,"v":1.14,"w":0.208},{"c":"R15","i":9,"v":1.231,"w":0.17},{"c":"R15","i":10,"v":1.293,"w":0.126},{"c":"R15","i":11,"v":1.333,"w":0.069},{"c":"R15","i":12,"v":1.354,"w":0},{"c":"R15","i":13,"v":1.333,"w":-0.069},{"c":"R15","i":14,"v":1.295,"w":-0.123},{"c":"R15","i":15,"v":1.234,"w":-0.167},{"c":"R15","i":16,"v":1.144,"w":-0.206},{"c":"R15","i":17,"v":1.034,"w":-0.231},{"c":"R15","i":18,"v":0.905,"w":-0.244},{"c":"R15","i":19,"v":0.768,"w":-0.246},{"c":"R15","i":20,"v":0.557,"w":-0.234},{"c":"R15","i":21,"v":0.329,"w":-0.206},{"c":"R15","i":22,"v":0.148,"w":-0.163},{"c":"R15","i":23,"v":0.03,"w":-0.112},{"c":"R15","i":24,"v":0,"w":-0.072},
{"c":"R9","i":0,"v":0,"w":0.07},{"c":"R9","i":1,"v":0.03,"w":0.111},{"c":"R9","i":2,"v":0.145,"w":0.169},{"c":"R9","i":3,"v":0.271,"w":0.201},{"c":"R9","i":4,"v":0.412,"w":0.224},{"c":"R9","i":5,"v":0.594,"w":0.239},{"c":"R9","i":6,"v":0.803,"w":0.244},{"c":"R9","i":7,"v":1.028,"w":0.228},{"c":"R9","i":8,"v":1.135,"w":0.204},{"c":"R9","i":9,"v":1.224,"w":0.167},{"c":"R9","i":10,"v":1.286,"w":0.124},{"c":"R9","i":11,"v":1.325,"w":0.068},{"c":"R9","i":12,"v":1.346,"w":0},{"c":"R9","i":13,"v":1.325,"w":-0.068},{"c":"R9","i":14,"v":1.288,"w":-0.121},{"c":"R9","i":15,"v":1.228,"w":-0.165},{"c":"R9","i":16,"v":1.138,"w":-0.203},{"c":"R9","i":17,"v":1.03,"w":-0.227},{"c":"R9","i":18,"v":0.902,"w":-0.24},{"c":"R9","i":19,"v":0.766,"w":-0.242},{"c":"R9","i":20,"v":0.556,"w":-0.23},{"c":"R9","i":21,"v":0.329,"w":-0.202},{"c":"R9","i":22,"v":0.149,"w":-0.161},{"c":"R9","i":23,"v":0.03,"w":-0.11},{"c":"R9","i":24,"v":0,"w":-0.072},
{"c":"R16","i":0,"v":0,"w":0.07},{"c":"R16","i":1,"v":0.03,"w":0.109},{"c":"R16","i":2,"v":0.144,"w":0.166},{"c":"R16","i":3,"v":0.269,"w":0.197},{"c":"R16","i":4,"v":0.41,"w":0.22},{"c":"R16","i":5,"v":0.592,"w":0.235},{"c":"R16","i":6,"v":0.799,"w":0.24},{"c":"R16","i":7,"v":1.024,"w":0.224},{"c":"R16","i":8,"v":1.129,"w":0.2},{"c":"R16","i":9,"v":1.218,"w":0.163},{"c":"R16","i":10,"v":1.278,"w":0.122},{"c":"R16","i":11,"v":1.317,"w":0.067},{"c":"R16","i":12,"v":1.337,"w":0},{"c":"R16","i":13,"v":1.317,"w":-0.067},{"c":"R16","i":14,"v":1.28,"w":-0.119},{"c":"R16","i":15,"v":1.22,"w":-0.162},{"c":"R16","i":16,"v":1.133,"w":-0.199},{"c":"R16","i":17,"v":1.025,"w":-0.223},{"c":"R16","i":18,"v":0.899,"w":-0.236},{"c":"R16","i":19,"v":0.764,"w":-0.238},{"c":"R16","i":20,"v":0.555,"w":-0.226},{"c":"R16","i":21,"v":0.329,"w":-0.199},{"c":"R16","i":22,"v":0.149,"w":-0.157},{"c":"R16","i":23,"v":0.03,"w":-0.108},{"c":"R16","i":24,"v":0,"w":-0.072},
{"c":"R10","i":0,"v":0,"w":0.07},{"c":"R10","i":1,"v":0.03,"w":0.108},{"c":"R10","i":2,"v":0.143,"w":0.163},{"c":"R10","i":3,"v":0.268,"w":0.195},{"c":"R10","i":4,"v":0.409,"w":0.217},{"c":"R10","i":5,"v":0.59,"w":0.232},{"c":"R10","i":6,"v":0.797,"w":0.237},{"c":"R10","i":7,"v":1.021,"w":0.221},{"c":"R10","i":8,"v":1.126,"w":0.197},{"c":"R10","i":9,"v":1.213,"w":0.161},{"c":"R10","i":10,"v":1.272,"w":0.12},{"c":"R10","i":11,"v":1.31,"w":0.066},{"c":"R10","i":12,"v":1.331,"w":0},{"c":"R10","i":13,"v":1.311,"w":-0.066},{"c":"R10","i":14,"v":1.274,"w":-0.118},{"c":"R10","i":15,"v":1.215,"w":-0.159},{"c":"R10","i":16,"v":1.128,"w":-0.196},{"c":"R10","i":17,"v":1.022,"w":-0.22},{"c":"R10","i":18,"v":0.896,"w":-0.233},{"c":"R10","i":19,"v":0.762,"w":-0.235},{"c":"R10","i":20,"v":0.554,"w":-0.224},{"c":"R10","i":21,"v":0.329,"w":-0.197},{"c":"R10","i":22,"v":0.149,"w":-0.155},{"c":"R10","i":23,"v":0.03,"w":-0.107},{"c":"R10","i":24,"v":0,"w":-0.072},
{"c":"R17","i":0,"v":0,"w":0.07},{"c":"R17","i":1,"v":0.03,"w":0.107},{"c":"R17","i":2,"v":0.143,"w":0.161},{"c":"R17","i":3,"v":0.267,"w":0.192},{"c":"R17","i":4,"v":0.408,"w":0.215},{"c":"R17","i":5,"v":0.589,"w":0.229},{"c":"R17","i":6,"v":0.794,"w":0.234},{"c":"R17","i":7,"v":1.018,"w":0.218},{"c":"R17","i":8,"v":1.122,"w":0.195},{"c":"R17","i":9,"v":1.208,"w":0.159},{"c":"R17","i":10,"v":1.267,"w":0.118},{"c":"R17","i":11,"v":1.305,"w":0.065},{"c":"R17","i":12,"v":1.325,"w":0},{"c":"R17","i":13,"v":1.305,"w":-0.065},{"c":"R17","i":14,"v":1.269,"w":-0.116},{"c":"R17","i":15,"v":1.21,"w":-0.157},{"c":"R17","i":16,"v":1.124,"w":-0.194},{"c":"R17","i":17,"v":1.019,"w":-0.217},{"c":"R17","i":18,"v":0.894,"w":-0.23},{"c":"R17","i":19,"v":0.76,"w":-0.232},{"c":"R17","i":20,"v":0.554,"w":-0.221},{"c":"R17","i":21,"v":0.329,"w":-0.194},{"c":"R17","i":22,"v":0.149,"w":-0.153},{"c":"R17","i":23,"v":0.03,"w":-0.106},{"c":"R17","i":24,"v":0,"w":-0.072},
{"c":"R11","i":0,"v":0,"w":0.07},{"c":"R11","i":1,"v":0.03,"w":0.106},{"c":"R11","i":2,"v":0.142,"w":0.159},{"c":"R11","i":3,"v":0.265,"w":0.189},{"c":"R11","i":4,"v":0.406,"w":0.212},{"c":"R11","i":5,"v":0.587,"w":0.226},{"c":"R11","i":6,"v":0.791,"w":0.23},{"c":"R11","i":7,"v":1.014,"w":0.214},{"c":"R11","i":8,"v":1.118,"w":0.191},{"c":"R11","i":9,"v":1.203,"w":0.156},{"c":"R11","i":10,"v":1.261,"w":0.116},{"c":"R11","i":11,"v":1.298,"w":0.064},{"c":"R11","i":12,"v":1.318,"w":0},{"c":"R11","i":13,"v":1.298,"w":-0.064},{"c":"R11","i":14,"v":1.262,"w":-0.115},{"c":"R11","i":15,"v":1.204,"w":-0.155},{"c":"R11","i":16,"v":1.12,"w":-0.191},{"c":"R11","i":17,"v":1.015,"w":-0.214},{"c":"R11","i":18,"v":0.891,"w":-0.226},{"c":"R11","i":19,"v":0.758,"w":-0.229},{"c":"R11","i":20,"v":0.553,"w":-0.218},{"c":"R11","i":21,"v":0.329,"w":-0.191},{"c":"R11","i":22,"v":0.149,"w":-0.15},{"c":"R11","i":23,"v":0.03,"w":-0.104},{"c":"R11","i":24,"v":0,"w":-0.072},
{"c":"R18","i":0,"v":0,"w":0.07},{"c":"R18","i":1,"v":0.03,"w":0.105},{"c":"R18","i":2,"v":0.141,"w":0.156},{"c":"R18","i":3,"v":0.264,"w":0.187},{"c":"R18","i":4,"v":0.405,"w":0.209},{"c":"R18","i":5,"v":0.586,"w":0.223},{"c":"R18","i":6,"v":0.789,"w":0.228},{"c":"R18","i":7,"v":1.012,"w":0.211},{"c":"R18","i":8,"v":1.114,"w":0.189},{"c":"R18","i":9,"v":1.198,"w":0.154},{"c":"R18","i":10,"v":1.256,"w":0.114},{"c":"R18","i":11,"v":1.292,"w":0.063},{"c":"R18","i":12,"v":1.313,"w":0},{"c":"R18","i":13,"v":1.292,"w":-0.063},{"c":"R18","i":14,"v":1.256,"w":-0.113},{"c":"R18","i":15,"v":1.199,"w":-0.153},{"c":"R18","i":16,"v":1.116,"w":-0.188},{"c":"R18","i":17,"v":1.012,"w":-0.211},{"c":"R18","i":18,"v":0.889,"w":-0.223},{"c":"R18","i":19,"v":0.757,"w":-0.226},{"c":"R18","i":20,"v":0.552,"w":-0.215},{"c":"R18","i":21,"v":0.329,"w":-0.189},{"c":"R18","i":22,"v":0.149,"w":-0.148},{"c":"R18","i":23,"v":0.03,"w":-0.103},{"c":"R18","i":24,"v":0,"w":-0.072},
{"c":"R12","i":0,"v":0,"w":0.07},{"c":"R12","i":1,"v":0.03,"w":0.103},{"c":"R12","i":2,"v":0.14,"w":0.154},{"c":"R12","i":3,"v":0.263,"w":0.184},{"c":"R12","i":4,"v":0.404,"w":0.206},{"c":"R12","i":5,"v":0.584,"w":0.22},{"c":"R12","i":6,"v":0.787,"w":0.224},{"c":"R12","i":7,"v":1.008,"w":0.208},{"c":"R12","i":8,"v":1.11,"w":0.186},{"c":"R12","i":9,"v":1.193,"w":0.151},{"c":"R12","i":10,"v":1.25,"w":0.113},{"c":"R12","i":11,"v":1.286,"w":0.062},{"c":"R12","i":12,"v":1.307,"w":0},{"c":"R12","i":13,"v":1.286,"w":-0.062},{"c":"R12","i":14,"v":1.251,"w":-0.112},{"c":"R12","i":15,"v":1.194,"w":-0.151},{"c":"R12","i":16,"v":1.111,"w":-0.185},{"c":"R12","i":17,"v":1.009,"w":-0.208},{"c":"R12","i":18,"v":0.887,"w":-0.22},{"c":"R12","i":19,"v":0.755,"w":-0.223},{"c":"R12","i":20,"v":0.552,"w":-0.212},{"c":"R12","i":21,"v":0.33,"w":-0.187},{"c":"R12","i":22,"v":0.15,"w":-0.146},{"c":"R12","i":23,"v":0.03,"w":-0.102},{"c":"R12","i":24,"v":0,"w":-0.072},
{"c":"R19","i":0,"v":0,"w":0.07},{"c":"R19","i":1,"v":0.03,"w":0.102},{"c":"R19","i":2,"v":0.139,"w":0.152},{"c":"R19","i":3,"v":0.262,"w":0.181},{"c":"R19","i":4,"v":0.402,"w":0.203},{"c":"R19","i":5,"v":0.582,"w":0.217},{"c":"R19","i":6,"v":0.784,"w":0.221},{"c":"R19","i":7,"v":1.005,"w":0.205},{"c":"R19","i":8,"v":1.106,"w":0.182},{"c":"R19","i":9,"v":1.188,"w":0.149},{"c":"R19","i":10,"v":1.244,"w":0.111},{"c":"R19","i":11,"v":1.279,"w":0.061},{"c":"R19","i":12,"v":1.299,"w":0},{"c":"R19","i":13,"v":1.279,"w":-0.061},{"c":"R19","i":14,"v":1.244,"w":-0.11},{"c":"R19","i":15,"v":1.188,"w":-0.148},{"c":"R19","i":16,"v":1.107,"w":-0.182},{"c":"R19","i":17,"v":1.005,"w":-0.205},{"c":"R19","i":18,"v":0.884,"w":-0.217},{"c":"R19","i":19,"v":0.753,"w":-0.22},{"c":"R19","i":20,"v":0.551,"w":-0.209},{"c":"R19","i":21,"v":0.33,"w":-0.184},{"c":"R19","i":22,"v":0.15,"w":-0.143},{"c":"R19","i":23,"v":0.03,"w":-0.1},{"c":"R19","i":24,"v":0,"w":-0.072}
]
},
"layer": [
{
"data": {"name": "dense"},
"mark": {"type": "area", "color": "#0000f5", "opacity": 1},
"encoding": {
"x": {"field": "v", "type": "quantitative", "scale": {"domain": [-2, 2], "nice": false, "zero": false},
 "axis": {"values": [-2, -1.5, -1, -0.5, 0, 0.5, 1, 1.5, 2], "labelExpr": "replace(format(datum.value, '~g'), '−', '-')",
  "labelFont": "Liberation Sans", "labelFontSize": 36, "labelColor": "#000000", "labelPadding": 34, "labelFlush": false, "labelOverlap": false,
  "tickSize": -15, "tickColor": "#333333", "tickWidth": 1.5, "domain": false,
  "grid": true, "gridColor": "#7a7a7a", "gridDash": [1.5, 3.5], "gridWidth": 1.2,
  "title": "v", "titleFont": "Liberation Sans", "titleFontSize": 50, "titleFontWeight": "normal", "titleColor": "#000000",
  "titleX": 741, "titleY": 96, "titleBaseline": "alphabetic", "titleAlign": "center"}},
"y": {"field": "hi", "type": "quantitative", "scale": {"domain": [-0.5, 0.5], "nice": false, "zero": false},
 "axis": {"values": [-0.5, -0.4, -0.3, -0.2, -0.1, 0, 0.1, 0.2, 0.3, 0.4, 0.5], "labelExpr": "replace(format(datum.value, '~g'), '−', '-')",
  "labelFont": "Liberation Sans", "labelFontSize": 36, "labelColor": "#000000", "labelPadding": 26, "labelFlush": false, "labelOverlap": false,
  "labelAlign": "right", "labelBaseline": "middle",
  "tickSize": -15, "tickColor": "#333333", "tickWidth": 1.5, "domain": false,
  "grid": true, "gridColor": "#7a7a7a", "gridDash": [1.5, 3.5], "gridWidth": 1.2,
  "title": "w", "titleFont": "Liberation Sans", "titleFontSize": 50, "titleFontWeight": "normal", "titleColor": "#000000",
  "titleAngle": -90, "titleX": -100, "titleY": 509, "titleBaseline": "alphabetic", "titleAlign": "center"}},
"y2": {"field": "lo"},
"detail": {"field": "b"}
}
},
{
"data": {"name": "loops"},
"mark": {"type": "line", "color": "#1414c0", "strokeWidth": 3, "strokeJoin": "round"},
"encoding": {
"x": {"field": "v", "type": "quantitative", "axis": null},
"y": {"field": "w", "type": "quantitative", "axis": null},
"detail": {"field": "c"},
"order": {"field": "i", "type": "quantitative"}
}
},
{
"data": {"name": "dense"},
"mark": {"type": "point", "opacity": 0},
"encoding": {
"x": {"field": "v", "type": "quantitative", "axis": {"orient": "top", "values": [-2, -1.5, -1, -0.5, 0, 0.5, 1, 1.5, 2], "labels": false, "grid": false, "domain": false, "tickSize": -15, "tickColor": "#333333", "tickWidth": 1.5, "title": null}},
"y": {"field": "hi", "type": "quantitative", "axis": {"orient": "right", "values": [-0.5, -0.4, -0.3, -0.2, -0.1, 0, 0.1, 0.2, 0.3, 0.4, 0.5], "labels": false, "grid": false, "domain": false, "tickSize": -15, "tickColor": "#333333", "tickWidth": 1.5, "title": null}}
}
}
],
"resolve": {"axis": {"x": "independent", "y": "independent"}}
}
